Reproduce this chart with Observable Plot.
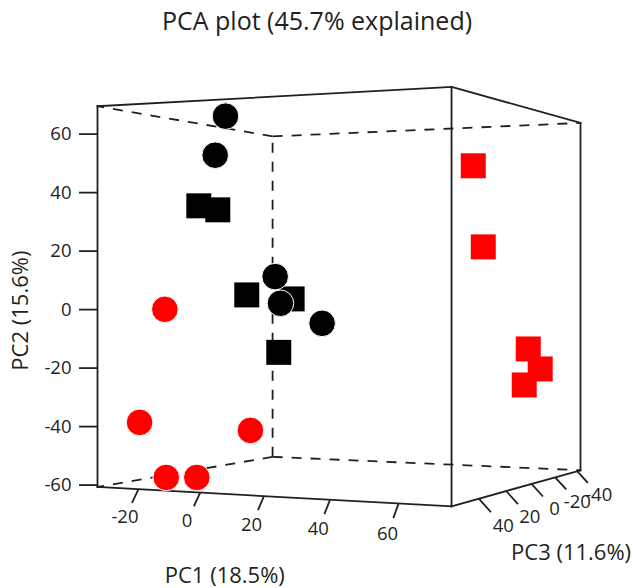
<!DOCTYPE html>
<html>
<head>
<meta charset="utf-8">
<script src="https://cdn.jsdelivr.net/npm/d3@7"></script>
<script src="https://cdn.jsdelivr.net/npm/@observablehq/plot@0.6"></script>
<style>
  html, body { margin: 0; padding: 0; background: #ffffff; }
  #chart { width: 633px; height: 588px; }
</style>
</head>
<body>
<div id="chart"></div>
<script>
// ---------------- data ----------------
const title = "PCA plot (45.7% explained)";
const axisTitles = ["PC1 (18.5%)", "PC2 (15.6%)", "PC3 (11.6%)"];

// sample scores (PC1, PC2, PC3), colour group and marker shape
const sampleColor = ["red","red","red","red","red",
                     "black","black","black","black","black",
                     "red","red","red","red","red",
                     "black","black","black","black","black"];
const sampleShape = ["square","square","square","square","square",
                     "square","square","square","square","square",
                     "circle","circle","circle","circle","circle",
                     "circle","circle","circle","circle","circle"];
const pc1 = [64.22, 63.12, 74.91, 69.19, 56.38,
             -12.84, -12.57, -8.65, -4.31, -3.40,
             -17.85, -19.65, -1.58, -23.85, -16.62,
             -12.96, -13.45, -15.87, -8.40, 11.31];
const pc2 = [48.84, 21.66, -13.66, -21.86, -29.15,
             36.11, 35.26, 5.06, 3.59, -15.92,
             0.08, -38.05, -42.64, -59.2, -59.4,
             69.13, 54.70, 12.09, 1.95, -5.20];
const pc3 = [17.82, 7.65, 2.56, -22.86, -43.2,
             38.16, 27.99, 17.82, -2.52, 7.65,
             48.33, 58.5, 27.99, 38.16, 33.08,
             22.91, 27.99, -12.69, -2.52, 7.65];

// box extents (data ranges of the three axes)
const pc1Domain = [-33.70, 74.96];
const pc2Domain = [-60.65, 69.55];
const pc3Domain = [-43.2, 58.5];

// tick values
const pc1Ticks = [-20, 0, 20, 40, 60];
const pc2Ticks = [-60, -40, -20, 0, 20, 40, 60];
const pc3Ticks = [40, 20, 0, -20, -40];

const colors = {domain: ["red", "black"], range: ["#ec2c2f", "#231f20"]};

// ---------------- 3-D view ----------------
const camera = {azimuth: 26.03, distance: 5, offset: 0.0929};
const deg = Math.PI / 180;
const ca = Math.cos(camera.azimuth * deg), sa = Math.sin(camera.azimuth * deg);
const norm = (v, d) => (v - (d[0] + d[1]) / 2) / (d[1] - d[0]);
const depth = (X, Z) => camera.distance - X * sa - Z * ca;
const zRef = depth(-0.5, 0.5);                       // front-left edge carries the PC2 axis
const pc2Mid = (pc2Domain[0] + pc2Domain[1]) / 2, pc2Span = pc2Domain[1] - pc2Domain[0];
function projectN(X, Y, Z) {
  const zc = depth(X, Z);
  return [(X * ca - Z * sa + camera.offset) / zc, pc2Mid + pc2Span * Y * zRef / zc];
}
const project = (a, b, c) => projectN(norm(a, pc1Domain), norm(b, pc2Domain), norm(c, pc3Domain));

// box
const corners = [];
for (const X of [-0.5, 0.5]) for (const Y of [-0.5, 0.5]) for (const Z of [-0.5, 0.5]) corners.push([X, Y, Z]);
const maxDepth = d3.max(corners, c => depth(c[0], c[2]));
const isFar = c => Math.abs(depth(c[0], c[2]) - maxDepth) < 1e-9;
const edges = [];
for (let i = 0; i < 8; i++) for (let j = i + 1; j < 8; j++) {
  const a = corners[i], b = corners[j];
  if (a.filter((v, k) => v !== b[k]).length !== 1) continue;
  const [x1, y1] = projectN(...a), [x2, y2] = projectN(...b);
  edges.push({x1, y1, x2, y2, hidden: isFar(a) || isFar(b)});
}
const xDomain = [projectN(-0.5, 0, 0.5)[0], projectN(0.5, 0, -0.5)[0]];

// ticks on the slanted axes
const tickLen = 0.032, labelOff = 0.066;
const pc1TickRows = pc1Ticks.map(v => {
  const X = norm(v, pc1Domain);
  const [x1, y1] = projectN(X, -0.5, 0.5);
  const [x2, y2] = projectN(X, -0.5 - tickLen, 0.5 + tickLen);
  const [lx, ly] = projectN(X, -0.5 - labelOff, 0.5 + labelOff);
  return {x1, y1, x2, y2, lx, ly, label: String(v)};
});
const pc3TickRows = pc3Ticks.map(v => {
  const Z = norm(v, pc3Domain);
  const [x1, y1] = projectN(0.5, -0.5, Z);
  const [x2, y2] = projectN(0.5 + tickLen, -0.5 - tickLen, Z);
  const [lx, ly] = projectN(0.5 + 0.064, -0.5 - 0.064, Z);
  return {x1, y1, x2, y2, lx, ly, label: String(v)};
});
const pc1TitlePos = projectN(norm(d3.mean(d3.extent(pc1Ticks)), pc1Domain), -0.5 - 0.171, 0.5 + 0.203);
const pc3TitlePos = projectN(0.5 + 0.11, -0.5 - 0.178, norm(d3.mean(d3.extent(pc3Ticks)), pc3Domain));

const samples = pc1.map((v, i) => {
  const [x, y] = project(pc1[i], pc2[i], pc3[i]);
  return {x, y, color: sampleColor[i], shape: sampleShape[i]};
});

const ink = "#231f20";
const chart = Plot.plot({
  width: 633,
  height: 588,
  marginLeft: 97,
  marginRight: 53,
  marginTop: 105.7,
  marginBottom: 101.5,
  style: {fontFamily: "'Open Sans', sans-serif", background: "#ffffff", color: ink},
  x: {domain: xDomain, axis: null},
  y: {domain: pc2Domain},
  color: colors,
  marks: [
    Plot.link(edges.filter(d => d.hidden), {x1: "x1", y1: "y1", x2: "x2", y2: "y2",
      stroke: ink, strokeWidth: 1.8, strokeDasharray: "10,9"}),
    Plot.link(edges.filter(d => !d.hidden), {x1: "x1", y1: "y1", x2: "x2", y2: "y2",
      stroke: ink, strokeWidth: 1.8, strokeLinecap: "square"}),
    Plot.axisY({ticks: pc2Ticks, tickSize: 18, tickPadding: 8, fontSize: 18.5,
      strokeWidth: 1.8, label: null, tickFormat: d => String(d)}),
    Plot.link(pc1TickRows, {x1: "x1", y1: "y1", x2: "x2", y2: "y2", stroke: ink, strokeWidth: 1.8}),
    Plot.text(pc1TickRows, {x: "lx", y: "ly", text: "label", fontSize: 18.5, textAnchor: "middle", lineAnchor: "middle", fill: ink}),
    Plot.link(pc3TickRows, {x1: "x1", y1: "y1", x2: "x2", y2: "y2", stroke: ink, strokeWidth: 1.8}),
    Plot.text(pc3TickRows, {x: "lx", y: "ly", text: "label", fontSize: 18.5, textAnchor: "middle", lineAnchor: "middle", fill: ink}),
    Plot.dot(samples.filter(d => d.shape === "square"), {x: "x", y: "y", symbol: "square", r: 14.1, fill: "color"}),
    Plot.dot(samples.filter(d => d.shape === "circle"), {x: "x", y: "y", symbol: "circle", r: 13.3, fill: "color", stroke: "#ffffff", strokeWidth: 1}),
    Plot.text([title], {frameAnchor: "top", dx: -22, dy: -84, fontSize: 25, lineAnchor: "middle", fill: ink}),
    Plot.text([axisTitles[0]], {x: () => pc1TitlePos[0], y: () => pc1TitlePos[1], fontSize: 22, textAnchor: "middle", lineAnchor: "middle", fill: ink}),
    Plot.text([axisTitles[1]], {frameAnchor: "left", rotate: -90, dx: -77, dy: 14, fontSize: 22, textAnchor: "middle", lineAnchor: "middle", fill: ink}),
    Plot.text([axisTitles[2]], {x: () => pc3TitlePos[0], y: () => pc3TitlePos[1], fontSize: 22, textAnchor: "middle", lineAnchor: "middle", fill: ink})
  ]
});
document.getElementById("chart").appendChild(chart);
</script>
</body>
</html>
